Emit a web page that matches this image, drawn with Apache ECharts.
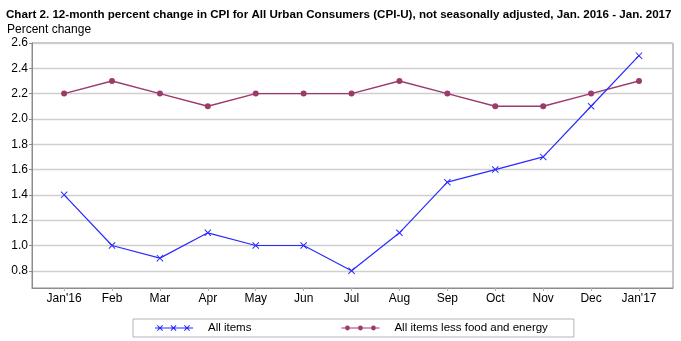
<!DOCTYPE html>
<html>
<head>
<meta charset="utf-8">
<title>CPI-U 12-month percent change</title>
<script src="https://cdn.jsdelivr.net/npm/echarts@6/dist/echarts.min.js"></script>
<style>
  html, body { margin: 0; padding: 0; background: #fff; }
  #chart { width: 681px; height: 341px; }
</style>
</head>
<body>
<div id="chart"></div>
<script>
// Months on the horizontal axis
var months = ["Jan'16", 'Feb', 'Mar', 'Apr', 'May', 'Jun', 'Jul', 'Aug', 'Sep', 'Oct', 'Nov', 'Dec', "Jan'17"];
// 12-month percent change, all items
var allItems = [1.4, 1.0, 0.9, 1.1, 1.0, 1.0, 0.8, 1.1, 1.5, 1.6, 1.7, 2.1, 2.5];
// 12-month percent change, all items less food and energy
var coreItems = [2.2, 2.3, 2.2, 2.1, 2.2, 2.2, 2.2, 2.3, 2.2, 2.1, 2.1, 2.2, 2.3];
// Vertical axis tick labels
var yTicks = [0.8, 1.0, 1.2, 1.4, 1.6, 1.8, 2.0, 2.2, 2.4, 2.6];

var seriesNames = ['All items', 'All items less food and energy'];
var blue = '#2a2aff';
var maroon = '#9c3a6c';
var font = '"Liberation Sans", Arial, sans-serif';

// filled "x" marker drawn in a 10x10 box
var xMarker = 'path://M0 1L1 0L10 9L9 10Z M9 0L10 1L1 10L0 9Z';

// legend swatches: a line with three markers
function xBand(cx) {
  return 'M' + (cx - 3) + ' 1.7L' + (cx - 2.3) + ' 1L' + (cx + 3) + ' 6.3L' + (cx + 2.3) + ' 7Z' +
         'M' + (cx + 2.3) + ' 1L' + (cx + 3) + ' 1.7L' + (cx - 2.3) + ' 7L' + (cx - 3) + ' 6.3Z';
}
function dot(cx) {
  var r = 2.4;
  return 'M' + (cx - r) + ' 4A' + r + ' ' + r + ' 0 1 1 ' + (cx + r) + ' 4A' + r + ' ' + r + ' 0 1 1 ' + (cx - r) + ' 4Z';
}
var lineBar = 'M0 3.5H38V4.5H0Z';
var legendIconX = 'path://' + lineBar + xBand(5) + xBand(18.5) + xBand(32);
var legendIconDot = 'path://' + lineBar + dot(6) + dot(19) + dot(32);

function pairs(values) {
  return values.map(function (v, i) { return [i, v]; });
}
var monthIdx = months.map(function (m, i) { return i; });

var chart = echarts.init(document.getElementById('chart'), null, { renderer: 'canvas' });
chart.setOption({
  animation: false,
  backgroundColor: '#ffffff',
  textStyle: { fontFamily: font },
  title: [
    {
      text: 'Chart 2. 12-month percent change in CPI for All Urban Consumers (CPI-U), not seasonally adjusted, Jan. 2016 - Jan. 2017',
      left: 6, top: 9, padding: 0,
      textStyle: { fontSize: 11.6, fontWeight: 'bold', color: '#000', fontFamily: font }
    },
    {
      text: 'Percent change',
      left: 7, top: 24, padding: 0,
      textStyle: { fontSize: 12, fontWeight: 'normal', color: '#000', fontFamily: font }
    }
  ],
  grid: {
    left: 32, top: 43, right: 8, bottom: 53,
    show: true, borderColor: '#8c8c8c', borderWidth: 1, backgroundColor: '#fff',
    containLabel: false
  },
  legend: {
    left: 133, top: 319,
    padding: [3, 26, 3, 22],
    itemGap: 90,
    itemWidth: 38, itemHeight: 6,
    borderColor: '#b4b4b4', borderWidth: 1,
    selectedMode: false,
    textStyle: { fontSize: 11.5, color: '#000', fontFamily: font, padding: [0, 0, 0, 10] },
    itemStyle: { borderWidth: 0 },
    data: [
      { name: seriesNames[0], icon: legendIconX, itemStyle: { color: blue, borderWidth: 0 } },
      { name: seriesNames[1], icon: legendIconDot, itemStyle: { color: maroon, borderWidth: 0 } }
    ]
  },
  xAxis: {
    type: 'value',
    min: -0.67, max: 12.71,
    axisLine: { show: true, onZero: false, lineStyle: { color: '#8c8c8c', width: 1 } },
    axisTick: { show: true, customValues: monthIdx, length: 3, lineStyle: { color: '#b0b0b0' } },
    axisLabel: {
      customValues: monthIdx,
      formatter: function (v) { return months[Math.round(v)]; },
      fontSize: 12, color: '#000', margin: 5, fontFamily: font
    },
    splitLine: { show: false }
  },
  yAxis: {
    type: 'value',
    min: 0.664, max: 2.6,
    axisLine: { show: true, onZero: false, lineStyle: { color: '#8c8c8c', width: 1 } },
    axisTick: { show: true, customValues: yTicks, length: 3, lineStyle: { color: '#8c8c8c' } },
    axisLabel: {
      customValues: yTicks,
      formatter: function (v) { return v.toFixed(1); },
      fontSize: 12, color: '#000', margin: 4, fontFamily: font
    },
    splitLine: { show: true, lineStyle: { color: '#cfcfcf', width: 1.3 } }
  },
  series: [
    {
      name: seriesNames[0],
      type: 'line',
      data: pairs(allItems),
      symbol: xMarker,
      symbolSize: 7,
      color: blue,
      itemStyle: { color: blue, borderWidth: 0 },
      lineStyle: { color: blue, width: 1.2 },
      z: 3
    },
    {
      name: seriesNames[1],
      type: 'line',
      data: pairs(coreItems),
      symbol: 'circle',
      symbolSize: 6,
      color: maroon,
      itemStyle: { color: maroon, borderWidth: 0 },
      lineStyle: { color: maroon, width: 1.4 },
      z: 2
    }
  ]
});
</script>
</body>
</html>
